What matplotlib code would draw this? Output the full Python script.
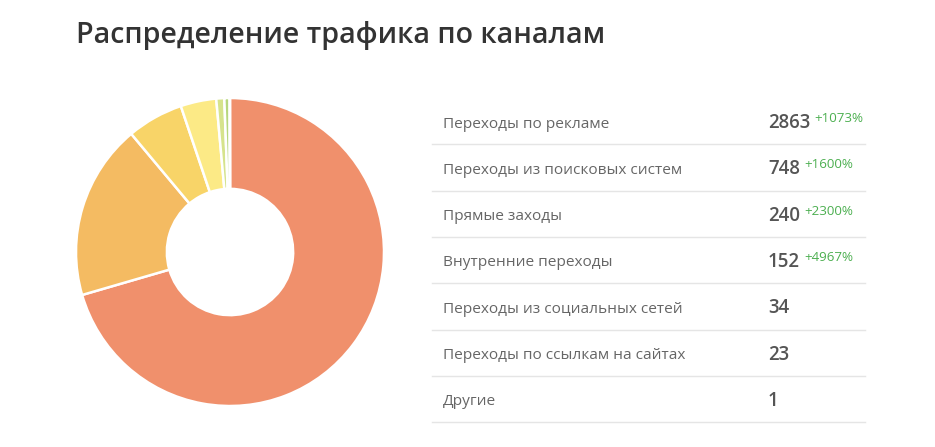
import matplotlib as mpl
import matplotlib.pyplot as plt

mpl.rcParams['font.family'] = ['Open Sans', 'DejaVu Sans']

title = 'Распределение трафика по каналам'
channels = ['Переходы по рекламе', 'Переходы из поисковых систем', 'Прямые заходы',
            'Внутренние переходы', 'Переходы из социальных сетей',
            'Переходы по ссылкам на сайтах', 'Другие']
visits = [2863, 748, 240, 152, 34, 23, 1]
growth = ['+1073%', '+1600%', '+2300%', '+4967%', '', '', '']
colors = ['#f0906c', '#f4bb62', '#f8d468', '#fcea86', '#d6e38c', '#b7d77e', '#8cc56a']

W, H = 935, 447
fig = plt.figure(figsize=(W / 100, H / 100), dpi=100)

# donut, centre (230, 252) px, radius 154 px
cx, cy, r = 230, 252, 154
ax_pie = fig.add_axes([(cx - r) / W, 1 - (cy + r) / H, 2 * r / W, 2 * r / H])
ax_pie.pie(visits, colors=colors, startangle=90, counterclock=False, radius=1,
           wedgeprops=dict(width=0.59, edgecolor='white', linewidth=1.8))
ax_pie.set_xlim(-1, 1)
ax_pie.set_ylim(-1, 1)
ax_pie.set_aspect('equal')
ax_pie.axis('off')

# overlay in pixel coordinates for title and table
ax = fig.add_axes([0, 0, 1, 1])
ax.set_xlim(0, W)
ax.set_ylim(H, 0)
ax.axis('off')

ax.text(76, 43, title, fontsize=20.6, fontweight='semibold', color='#333333', va='baseline')

row_h = 46.3
for i, (name, val, g) in enumerate(zip(channels, visits, growth)):
    base = 127.5 + i * row_h
    ax.text(443, base, name, fontsize=11.1, color='#666666', va='baseline')
    num = ax.text(768, base + 0.5, str(val), fontsize=13.4, fontweight='semibold',
                  color='#555555', va='baseline')
    if g:
        fig.canvas.draw()
        bb = num.get_window_extent().transformed(ax.transData.inverted())
        ax.text(bb.x1 + 4, base - 5.5, g, fontsize=9.6, color='#4caf50', va='baseline')
    ax.plot([432, 865], [144.3 + i * row_h] * 2, color='#e5e5e5', linewidth=1)

fig.savefig('out.png', dpi=100, facecolor='white')
